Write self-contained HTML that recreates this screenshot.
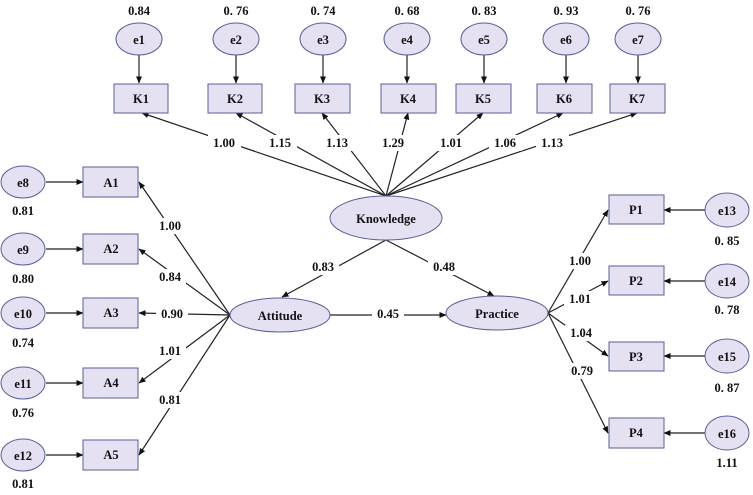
<!DOCTYPE html>
<html><head><meta charset="utf-8"><style>
html,body{margin:0;padding:0;background:#fff;}
svg{display:block;}
text{font-family:"Liberation Serif",serif;font-weight:bold;font-size:12.5px;fill:#111;}
.lb{font-size:12px;}
</style></head><body>
<svg width="753" height="495" viewBox="0 0 753 495" xmlns="http://www.w3.org/2000/svg">
<defs>
<marker id="a" markerWidth="7" markerHeight="6" refX="6.5" refY="3" orient="auto" markerUnits="userSpaceOnUse">
<path d="M0,0 L7,3 L0,6 z" fill="#111"/></marker>
</defs>
<g stroke="#222" stroke-width="1.2" fill="none">
<!-- top error arrows -->
<line x1="139" y1="55" x2="139" y2="83" marker-end="url(#a)"/>
<line x1="236" y1="55" x2="236" y2="83" marker-end="url(#a)"/>
<line x1="323" y1="55" x2="323" y2="83" marker-end="url(#a)"/>
<line x1="407" y1="55" x2="407" y2="83" marker-end="url(#a)"/>
<line x1="484" y1="55" x2="484" y2="83" marker-end="url(#a)"/>
<line x1="566" y1="55" x2="566" y2="83" marker-end="url(#a)"/>
<line x1="638" y1="55" x2="638" y2="83" marker-end="url(#a)"/>
<!-- knowledge to K -->
<line x1="386" y1="196" x2="142" y2="113" marker-end="url(#a)"/>
<line x1="386" y1="196" x2="236" y2="113" marker-end="url(#a)"/>
<line x1="386" y1="196" x2="322" y2="113" marker-end="url(#a)"/>
<line x1="386" y1="196" x2="408" y2="113" marker-end="url(#a)"/>
<line x1="386" y1="196" x2="483" y2="113" marker-end="url(#a)"/>
<line x1="386" y1="196" x2="563" y2="113" marker-end="url(#a)"/>
<line x1="386" y1="196" x2="637" y2="113" marker-end="url(#a)"/>
<!-- left errors -->
<line x1="46" y1="182" x2="83" y2="182" marker-end="url(#a)"/>
<line x1="46" y1="249" x2="83" y2="249" marker-end="url(#a)"/>
<line x1="46" y1="313" x2="83" y2="313" marker-end="url(#a)"/>
<line x1="46" y1="383" x2="83" y2="383" marker-end="url(#a)"/>
<line x1="46" y1="455" x2="83" y2="455" marker-end="url(#a)"/>
<!-- attitude to A -->
<line x1="230" y1="315" x2="139" y2="182" marker-end="url(#a)"/>
<line x1="230" y1="315" x2="139" y2="249" marker-end="url(#a)"/>
<line x1="230" y1="315" x2="139" y2="313" marker-end="url(#a)"/>
<line x1="230" y1="315" x2="139" y2="383" marker-end="url(#a)"/>
<line x1="230" y1="315" x2="139" y2="455" marker-end="url(#a)"/>
<!-- structural -->
<line x1="386" y1="240" x2="282" y2="297" marker-end="url(#a)"/>
<line x1="386" y1="240" x2="494" y2="296" marker-end="url(#a)"/>
<line x1="330" y1="315" x2="446" y2="315" marker-end="url(#a)"/>
<!-- practice to P -->
<line x1="548" y1="313" x2="608" y2="210" marker-end="url(#a)"/>
<line x1="548" y1="313" x2="608" y2="281" marker-end="url(#a)"/>
<line x1="548" y1="313" x2="608" y2="356" marker-end="url(#a)"/>
<line x1="548" y1="313" x2="608" y2="433" marker-end="url(#a)"/>
<!-- right errors -->
<line x1="705" y1="210" x2="664" y2="210" marker-end="url(#a)"/>
<line x1="705" y1="281" x2="664" y2="281" marker-end="url(#a)"/>
<line x1="705" y1="356" x2="664" y2="356" marker-end="url(#a)"/>
<line x1="705" y1="433" x2="664" y2="433" marker-end="url(#a)"/>
</g>
<g fill="#e6e0f3" stroke="#5a5f96" stroke-width="1">
<ellipse cx="139" cy="39" rx="23" ry="16"/>
<ellipse cx="236" cy="39" rx="23" ry="16"/>
<ellipse cx="323" cy="39" rx="23" ry="16"/>
<ellipse cx="407" cy="39" rx="23" ry="16"/>
<ellipse cx="484" cy="39" rx="23" ry="16"/>
<ellipse cx="566" cy="39" rx="23" ry="16"/>
<ellipse cx="638" cy="39" rx="23" ry="16"/>
<rect x="114" y="84" width="54" height="29"/>
<rect x="208" y="84" width="54" height="29"/>
<rect x="295" y="84" width="55" height="29"/>
<rect x="381" y="84" width="55" height="29"/>
<rect x="456" y="84" width="55" height="29"/>
<rect x="537" y="84" width="55" height="29"/>
<rect x="610" y="84" width="55" height="29"/>
<ellipse cx="386" cy="218" rx="56" ry="22"/>
<ellipse cx="280" cy="315" rx="50" ry="17"/>
<ellipse cx="497" cy="313" rx="51" ry="17"/>
<ellipse cx="23" cy="182" rx="22" ry="16"/>
<ellipse cx="23" cy="249" rx="22" ry="16"/>
<ellipse cx="23" cy="313" rx="22" ry="16"/>
<ellipse cx="23" cy="383" rx="22" ry="16"/>
<ellipse cx="23" cy="455" rx="22" ry="16"/>
<rect x="83" y="167" width="55" height="30"/>
<rect x="83" y="234" width="55" height="30"/>
<rect x="83" y="298" width="55" height="30"/>
<rect x="83" y="368" width="55" height="30"/>
<rect x="83" y="440" width="55" height="30"/>
<rect x="609" y="195" width="55" height="29"/>
<rect x="609" y="266" width="55" height="29"/>
<rect x="609" y="342" width="55" height="29"/>
<rect x="609" y="418" width="55" height="30"/>
<ellipse cx="727" cy="210" rx="22" ry="17"/>
<ellipse cx="727" cy="281" rx="22" ry="17"/>
<ellipse cx="727" cy="356" rx="22" ry="17"/>
<ellipse cx="727" cy="433" rx="22" ry="17"/>
</g>
<g text-anchor="middle" dominant-baseline="central">
<text x="139" y="40">e1</text><text x="236" y="40">e2</text><text x="323" y="40">e3</text><text x="407" y="40">e4</text><text x="484" y="40">e5</text><text x="566" y="40">e6</text><text x="638" y="40">e7</text>
<text x="141" y="99">K1</text><text x="235" y="99">K2</text><text x="322" y="99">K3</text><text x="408" y="99">K4</text><text x="483" y="99">K5</text><text x="564" y="99">K6</text><text x="637" y="99">K7</text>
<text x="139" y="11">0.84</text><text x="236" y="11">0. 76</text><text x="323" y="11">0. 74</text><text x="407" y="11">0. 68</text><text x="484" y="11">0. 83</text><text x="566" y="11">0. 93</text><text x="638" y="11">0. 76</text>
<text x="386" y="219">Knowledge</text><text x="280" y="316">Attitude</text><text x="497" y="314">Practice</text>
<text x="23" y="183">e8</text><text x="23" y="250">e9</text><text x="23" y="314">e10</text><text x="23" y="384">e11</text><text x="23" y="456">e12</text>
<text x="111" y="183">A1</text><text x="111" y="249">A2</text><text x="111" y="313">A3</text><text x="111" y="383">A4</text><text x="111" y="455">A5</text>
<text x="23" y="211">0.81</text><text x="23" y="279">0.80</text><text x="23" y="343">0.74</text><text x="23" y="413">0.76</text><text x="23" y="484">0.81</text>
<text x="636" y="210">P1</text><text x="636" y="281">P2</text><text x="636" y="357">P3</text><text x="636" y="433">P4</text>
<text x="727" y="211">e13</text><text x="727" y="282">e14</text><text x="727" y="357">e15</text><text x="727" y="434">e16</text>
<text x="727" y="241">0. 85</text><text x="727" y="310">0. 78</text><text x="727" y="388">0. 87</text><text x="727" y="463">1.11</text>
</g>
<g text-anchor="middle" dominant-baseline="central">
<rect x="208" y="135" width="33" height="16" fill="#fff"/><text x="224" y="143">1.00</text>
<rect x="264" y="135" width="33" height="16" fill="#fff"/><text x="280" y="143">1.15</text>
<rect x="321" y="135" width="33" height="16" fill="#fff"/><text x="337" y="143">1.13</text>
<rect x="378" y="135" width="31" height="16" fill="#fff"/><text x="393" y="143">1.29</text>
<rect x="435" y="135" width="33" height="16" fill="#fff"/><text x="451" y="143">1.01</text>
<rect x="489" y="135" width="33" height="16" fill="#fff"/><text x="505" y="143">1.06</text>
<rect x="536" y="135" width="33" height="16" fill="#fff"/><text x="552" y="143">1.13</text>
<rect x="154" y="218" width="32" height="16" fill="#fff"/><text x="170" y="226">1.00</text>
<rect x="154" y="269" width="32" height="16" fill="#fff"/><text x="170" y="277">0.84</text>
<rect x="156" y="306" width="32" height="16" fill="#fff"/><text x="172" y="314">0.90</text>
<rect x="154" y="343" width="32" height="16" fill="#fff"/><text x="170" y="351">1.01</text>
<rect x="154" y="392" width="32" height="16" fill="#fff"/><text x="170" y="400">0.81</text>
<rect x="307" y="259" width="32" height="16" fill="#fff"/><text x="323" y="267">0.83</text>
<rect x="428" y="259" width="32" height="16" fill="#fff"/><text x="444" y="267">0.48</text>
<rect x="372" y="306" width="32" height="16" fill="#fff"/><text x="388" y="314">0.45</text>
<rect x="564" y="253" width="32" height="16" fill="#fff"/><text x="580" y="261">1.00</text>
<rect x="564" y="291" width="32" height="16" fill="#fff"/><text x="580" y="299">1.01</text>
<rect x="565" y="325" width="32" height="16" fill="#fff"/><text x="581" y="333">1.04</text>
<rect x="566" y="363" width="32" height="16" fill="#fff"/><text x="582" y="371">0.79</text>
</g>
</svg>
</body></html>
